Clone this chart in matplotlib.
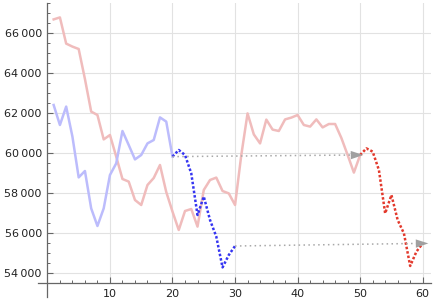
import numpy as np
import matplotlib
matplotlib.use('Agg')
import matplotlib.pyplot as plt

# history series (light lines), x = 1..N
red_hist = [66680, 66780, 65470, 65320, 65200, 63700, 62070, 61900, 60680, 60900,
            59820, 58700, 58570, 57650, 57400, 58400, 58750, 59400, 58050, 57070,
            56150, 57100, 57200, 56320, 58150, 58650, 58770, 58100, 57980, 57400,
            59900, 61980, 60930, 60480, 61670, 61170, 61100, 61680, 61770, 61900,
            61400, 61320, 61680, 61280, 61450, 61450, 60750, 59900, 59020, 59900]
blue_hist = [62400, 61400, 62320, 60820, 58780, 59100, 57230, 56350, 57230, 58900,
             59480, 61100, 60400, 59680, 59900, 60480, 60650, 61780, 61570, 59820]

# dotted continuations
blue_fc_x = list(range(20, 31))
blue_fc = [59820, 60150, 59900, 58980, 56900, 57820, 56650, 55820, 54280, 54900, 55350]
red_fc_x = list(range(50, 61))
red_fc = [59900, 60230, 60070, 59150, 56980, 57900, 56650, 55980, 54350, 55070, 55480]

yticks = [54000, 56000, 58000, 60000, 62000, 64000, 66000]
xticks = [10, 20, 30, 40, 50, 60]

fig = plt.figure(figsize=(4.35, 3.0), dpi=100)
ax = fig.add_axes([0.0874, 0.01, 0.903, 0.98])
ax.set_xlim(-1.5, 61.3)
ax.set_ylim(52800, 67500)

# grid only inside the quadrant of the axes
for y in yticks:
    ax.plot([0, 61.3], [y, y], color='#e2e2e2', lw=0.8, zorder=0)
for x in xticks:
    ax.plot([x, x], [53500, 67500], color='#e2e2e2', lw=0.8, zorder=0)

ax.plot(range(1, len(red_hist) + 1), red_hist, color='#f0bcbc', lw=1.8, zorder=2)
ax.plot(range(1, len(blue_hist) + 1), blue_hist, color='#bcbcfc', lw=1.8, zorder=2)

ax.plot(blue_fc_x, blue_fc, color='#3535f2', lw=1.8, ls=(0, (1, 0.8)), zorder=3)
ax.plot(red_fc_x, red_fc, color='#e3392c', lw=1.8, ls=(0, (1, 0.8)), zorder=3)

# grey dotted arrows linking the two forecasts
arrows = [((blue_fc_x[0], blue_fc[0]), (red_fc_x[0] + 0.5, red_fc[0])),
          ((blue_fc_x[-1], blue_fc[-1]), (red_fc_x[-1] + 0.9, red_fc[-1]))]
for start, tip in arrows:
    ax.plot([start[0], tip[0] - 1.2], [start[1], tip[1]], color='#a8a8a8', lw=1.1,
            ls=(0, (1, 2.2)), zorder=4)
    ax.annotate('', xy=tip, xytext=start,
                arrowprops=dict(arrowstyle='-|>,head_length=0.9,head_width=0.3',
                                color='#a0a0a0', lw=0, shrinkA=0, shrinkB=0,
                                mutation_scale=10), zorder=5)

for side in ['top', 'right']:
    ax.spines[side].set_visible(False)
ax.spines['left'].set_position(('data', 0))
ax.spines['bottom'].set_position(('data', 53500))
for side in ['left', 'bottom']:
    ax.spines[side].set_color('#666666')
    ax.spines[side].set_linewidth(0.9)

ax.set_xticks(xticks)
ax.set_xticks(np.arange(2, 62, 2), minor=True)
ax.set_yticks(yticks)
ax.set_yticks(np.arange(53500, 67600, 500), minor=True)
ax.set_yticklabels([f'{v // 1000}\u2009{v % 1000:03d}' for v in yticks])
ax.tick_params(which='major', direction='in', length=4, width=0.8, color='#666666',
               labelsize=8, labelcolor='#222222', pad=4)
ax.tick_params(which='minor', direction='in', length=2.5, width=0.7, color='#666666')

fig.savefig('out.png', dpi=100)
